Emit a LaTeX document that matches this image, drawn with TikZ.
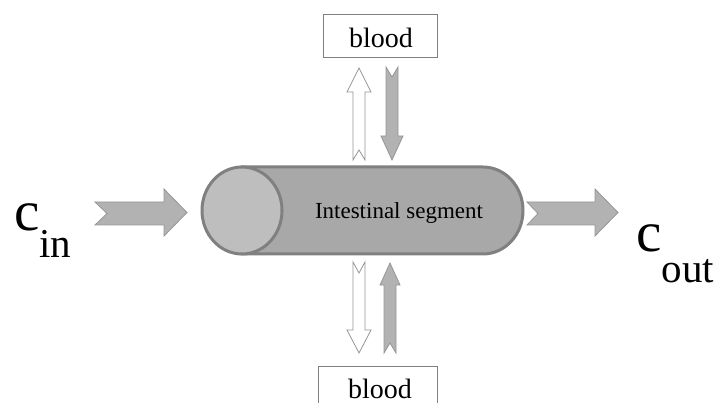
\documentclass[tikz,border=0pt]{standalone}
\usepackage{fontspec}
\setmainfont{Liberation Serif}
\begin{document}
\begin{tikzpicture}[x=1pt,y=-1pt,
  cylline/.style={draw={rgb,255:red,128;green,128;blue,128},line width=3pt},
  grayarrow/.style={fill={rgb,255:red,178;green,178;blue,178},draw={rgb,255:red,150;green,150;blue,150},line width=0.8pt,line join=miter},
  whitearrow/.style={fill=white,draw={rgb,255:red,150;green,150;blue,150},line width=0.8pt,line join=miter},
  bloodbox/.style={draw={rgb,255:red,128;green,128;blue,128},line width=0.8pt,fill=white},
  bloodtext/.style={font=\fontsize{28}{28}\selectfont,anchor=base,inner sep=0pt},
  bigc/.style={font=\fontsize{57}{57}\selectfont,anchor=base west,inner sep=0pt}]
\useasboundingbox (0,0) rectangle (725,403);
% cylinder body
\path[cylline,fill={rgb,255:red,168;green,168;blue,168}]
  (242,167) -- (483,167) arc[start angle=90,end angle=-90,x radius=40,y radius=-43.5] -- (242,254) -- cycle;
\path[cylline,fill={rgb,255:red,190;green,190;blue,190}] (242,210.5) ellipse[x radius=40,y radius=43.5];
\node[font=\fontsize{23}{23}\selectfont,anchor=base,inner sep=0pt] (seg) at (399,219) {Intestinal segment};
% horizontal arrows
\draw[grayarrow] (95,202) -- (164,202) -- (164,189) -- (187,212.5) -- (164,236) -- (164,225) -- (95,225) -- (107,213.5) -- cycle;
\draw[grayarrow] (527,202) -- (595,202) -- (595,189) -- (618,212.5) -- (595,236) -- (595,225) -- (527,225) -- (538,213.5) -- cycle;
% vertical arrows top
\draw[whitearrow] (353,160) -- (353,92) -- (347,92) -- (359,68) -- (371,92) -- (365,92) -- (365,160) -- (359,150) -- cycle;
\draw[grayarrow] (386,67) -- (392,77) -- (398,67) -- (398,136) -- (403,136) -- (392,160) -- (381,136) -- (386,136) -- cycle;
% vertical arrows bottom
\draw[whitearrow] (353,262) -- (359,273) -- (365,262) -- (365,330) -- (371,330) -- (359,353) -- (347,330) -- (353,330) -- cycle;
\draw[grayarrow] (390,263) -- (400,285) -- (396,285) -- (396,353) -- (390,343) -- (384,353) -- (384,285) -- (380,285) -- cycle;
% blood boxes
\draw[bloodbox] (323,14) rectangle (437,57);
\node[bloodtext] (bloodtop) at (381,48) {blood};
\draw[bloodbox] (318,366) rectangle (437,412);
\node[bloodtext] (bloodbot) at (380,398) {blood};
% labels
\node[bigc] (cin) at (14,231) {c\raisebox{-27pt}{\fontsize{41}{41}\selectfont in}};
\node[bigc] (cout) at (636,252) {c\raisebox{-30pt}{\fontsize{41}{41}\selectfont out}};
\end{tikzpicture}
\end{document}
